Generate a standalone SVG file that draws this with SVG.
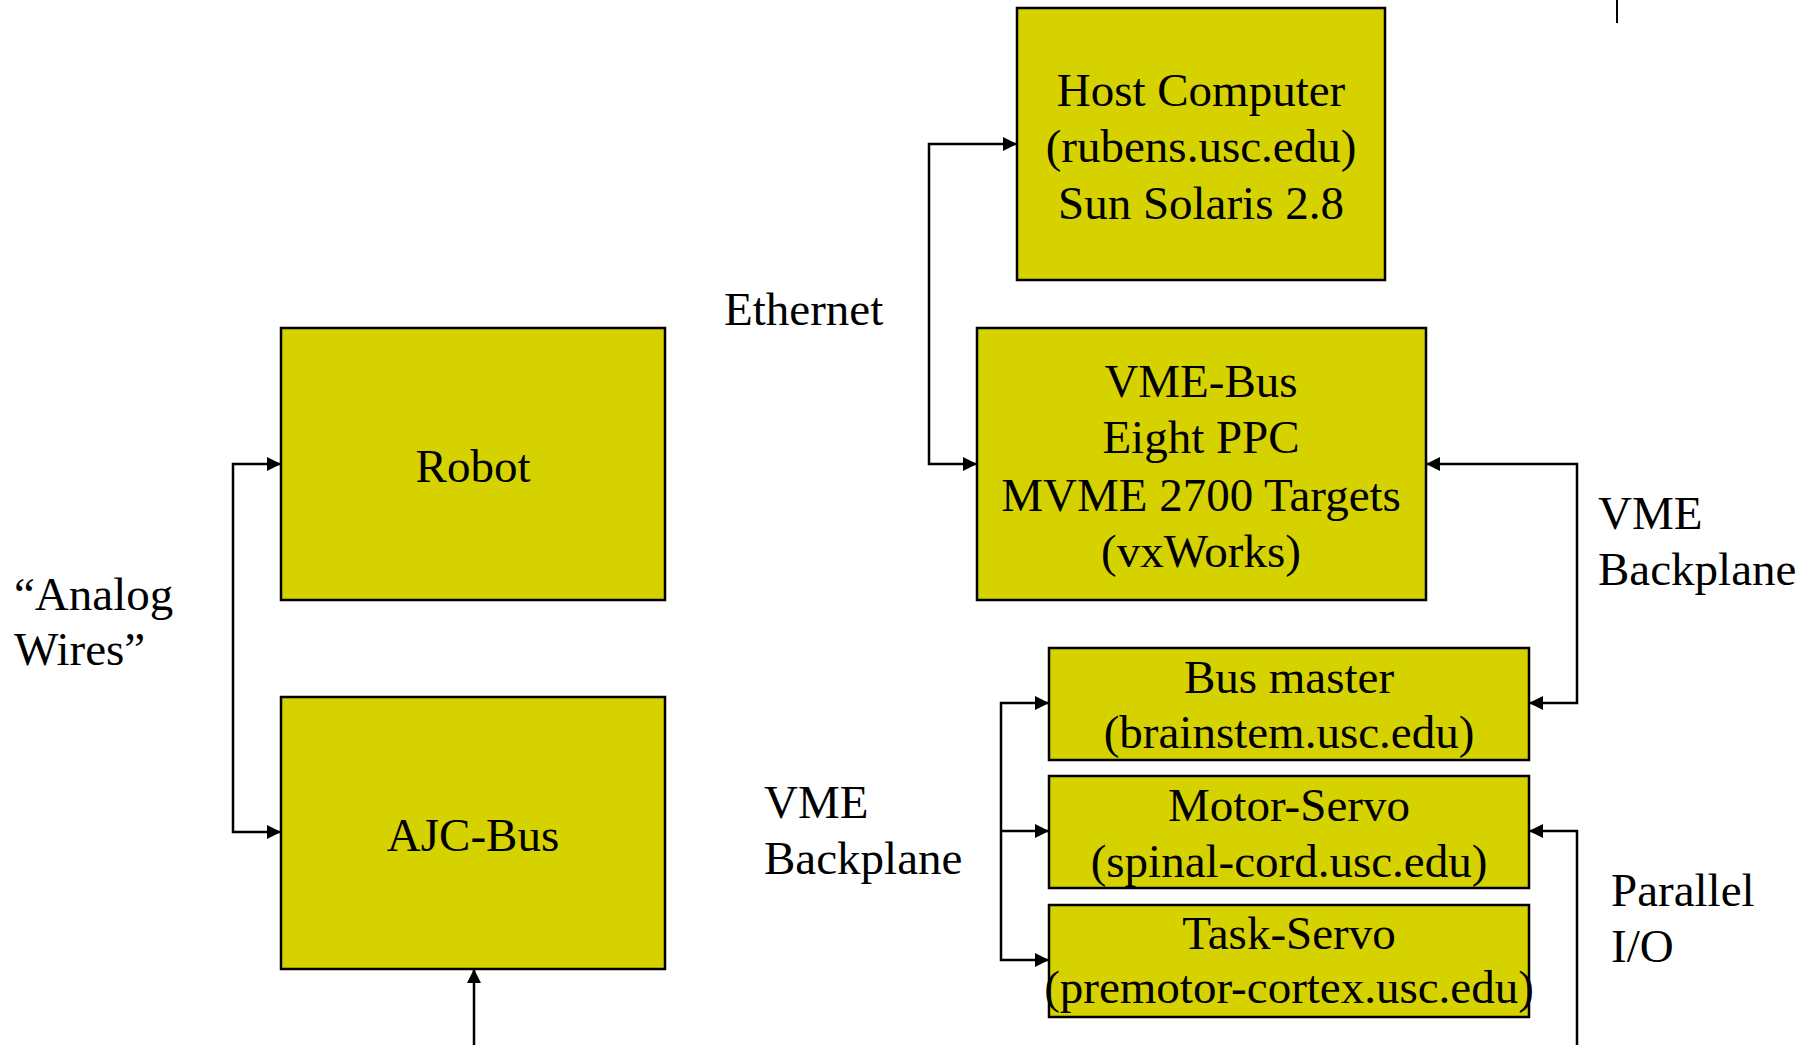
<svg xmlns="http://www.w3.org/2000/svg" width="1816" height="1045" viewBox="0 0 1816 1045">
<style>
.box{fill:#D6D200;stroke:#000;stroke-width:2.5}
text{font-family:"Liberation Serif","Times New Roman",serif;font-size:47px;fill:#000}
.c{text-anchor:middle}
.ln{fill:none;stroke:#000;stroke-width:2.5}
</style>
<defs>
<marker id="ah" markerUnits="userSpaceOnUse" markerWidth="14" markerHeight="14" refX="14" refY="7" orient="auto-start-reverse" viewBox="0 0 14 14">
<path d="M0,0 L14,7 L0,14 z" fill="#000"/>
</marker>
</defs>
<rect width="1816" height="1045" fill="#fff"/>
<g id="connectors">
<path class="ln" d="M1017,144 H929 V464 H977" marker-start="url(#ah)" marker-end="url(#ah)"/>
<path class="ln" d="M281,464 H233 V832 H281" marker-start="url(#ah)" marker-end="url(#ah)"/>
<path class="ln" d="M1426,464 H1577 V703 H1529" marker-start="url(#ah)" marker-end="url(#ah)"/>
<path class="ln" d="M1049,703 H1001 V960 H1049" marker-start="url(#ah)" marker-end="url(#ah)"/>
<path class="ln" d="M1001,831 H1049" marker-end="url(#ah)"/>
<path class="ln" d="M1577,1045 V831 H1529" marker-end="url(#ah)"/>
<path class="ln" d="M474,1045 V969" marker-end="url(#ah)"/>
<path d="M1617,0 V23" stroke="#000" stroke-width="2" fill="none"/>
</g>
<g id="host">
<rect class="box" x="1017" y="8" width="368" height="272"/>
<text class="c" x="1201" y="106">Host Computer</text>
<text class="c" x="1201" y="162">(rubens.usc.edu)</text>
<text class="c" x="1201" y="219">Sun Solaris 2.8</text>
</g>
<g id="vmebus">
<rect class="box" x="977" y="328" width="449" height="272"/>
<text class="c" x="1201" y="397">VME-Bus</text>
<text class="c" x="1201" y="453">Eight PPC</text>
<text class="c" x="1201" y="511">MVME 2700 Targets</text>
<text class="c" x="1201" y="567">(vxWorks)</text>
</g>
<g id="busmaster">
<rect class="box" x="1049" y="648" width="480" height="112"/>
<text class="c" x="1289" y="693">Bus master</text>
<text class="c" x="1289" y="748">(brainstem.usc.edu)</text>
</g>
<g id="motorservo">
<rect class="box" x="1049" y="776" width="480" height="112"/>
<text class="c" x="1289" y="821">Motor-Servo</text>
<text class="c" x="1289" y="877">(spinal-cord.usc.edu)</text>
</g>
<g id="taskservo">
<rect class="box" x="1049" y="905" width="480" height="112"/>
<text class="c" x="1289" y="949">Task-Servo</text>
<text class="c" x="1289" y="1003">(premotor-cortex.usc.edu)</text>
</g>
<g id="robot">
<rect class="box" x="281" y="328" width="384" height="272"/>
<text class="c" x="473" y="482">Robot</text>
</g>
<g id="ajcbus">
<rect class="box" x="281" y="697" width="384" height="272"/>
<text class="c" x="473" y="851">AJC-Bus</text>
</g>
<g id="labels">
<text x="724" y="325">Ethernet</text>
<text x="1598" y="529">VME</text>
<text x="1598" y="585">Backplane</text>
<text x="1611" y="906">Parallel</text>
<text x="1611" y="962">I/O</text>
<text x="764" y="818">VME</text>
<text x="764" y="874">Backplane</text>
<text x="14" y="610">“Analog</text>
<text x="14" y="665">Wires”</text>
</g>
</svg>
